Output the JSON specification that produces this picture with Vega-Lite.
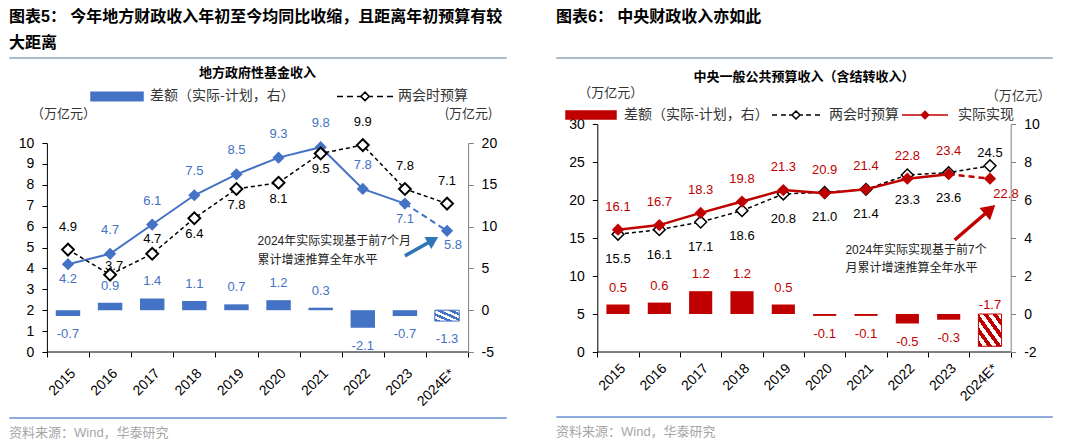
{
  "$schema": "https://vega.github.io/schema/vega-lite/v6.json",
  "background": "white",
  "padding": {"left": 8, "top": 8, "right": 0, "bottom": 0},
  "datasets": {
    "local": [
      {"year": "2015", "series": "实际实现", "value": 4.2},
      {"year": "2016", "series": "实际实现", "value": 4.7},
      {"year": "2017", "series": "实际实现", "value": 6.1},
      {"year": "2018", "series": "实际实现", "value": 7.5},
      {"year": "2019", "series": "实际实现", "value": 8.5},
      {"year": "2020", "series": "实际实现", "value": 9.3},
      {"year": "2021", "series": "实际实现", "value": 9.8},
      {"year": "2022", "series": "实际实现", "value": 7.8},
      {"year": "2023", "series": "实际实现", "value": 7.1},
      {"year": "2024E*", "series": "实际实现", "value": 5.8},
      {"year": "2015", "series": "两会时预算", "value": 4.9},
      {"year": "2016", "series": "两会时预算", "value": 3.7},
      {"year": "2017", "series": "两会时预算", "value": 4.7},
      {"year": "2018", "series": "两会时预算", "value": 6.4},
      {"year": "2019", "series": "两会时预算", "value": 7.8},
      {"year": "2020", "series": "两会时预算", "value": 8.1},
      {"year": "2021", "series": "两会时预算", "value": 9.5},
      {"year": "2022", "series": "两会时预算", "value": 9.9},
      {"year": "2023", "series": "两会时预算", "value": 7.8},
      {"year": "2024E*", "series": "两会时预算", "value": 7.1},
      {"year": "2015", "series": "差额（实际-计划，右）", "value": -0.7},
      {"year": "2016", "series": "差额（实际-计划，右）", "value": 0.9},
      {"year": "2017", "series": "差额（实际-计划，右）", "value": 1.4},
      {"year": "2018", "series": "差额（实际-计划，右）", "value": 1.1},
      {"year": "2019", "series": "差额（实际-计划，右）", "value": 0.7},
      {"year": "2020", "series": "差额（实际-计划，右）", "value": 1.2},
      {"year": "2021", "series": "差额（实际-计划，右）", "value": 0.3},
      {"year": "2022", "series": "差额（实际-计划，右）", "value": -2.1},
      {"year": "2023", "series": "差额（实际-计划，右）", "value": -0.7},
      {"year": "2024E*", "series": "差额（实际-计划，右）", "value": -1.3}
    ],
    "central": [
      {"year": "2015", "series": "实际实现", "value": 16.1},
      {"year": "2016", "series": "实际实现", "value": 16.7},
      {"year": "2017", "series": "实际实现", "value": 18.3},
      {"year": "2018", "series": "实际实现", "value": 19.8},
      {"year": "2019", "series": "实际实现", "value": 21.3},
      {"year": "2020", "series": "实际实现", "value": 20.9},
      {"year": "2021", "series": "实际实现", "value": 21.4},
      {"year": "2022", "series": "实际实现", "value": 22.8},
      {"year": "2023", "series": "实际实现", "value": 23.4},
      {"year": "2024E*", "series": "实际实现", "value": 22.8},
      {"year": "2015", "series": "两会时预算", "value": 15.5},
      {"year": "2016", "series": "两会时预算", "value": 16.1},
      {"year": "2017", "series": "两会时预算", "value": 17.1},
      {"year": "2018", "series": "两会时预算", "value": 18.6},
      {"year": "2019", "series": "两会时预算", "value": 20.8},
      {"year": "2020", "series": "两会时预算", "value": 21.0},
      {"year": "2021", "series": "两会时预算", "value": 21.4},
      {"year": "2022", "series": "两会时预算", "value": 23.3},
      {"year": "2023", "series": "两会时预算", "value": 23.6},
      {"year": "2024E*", "series": "两会时预算", "value": 24.5},
      {"year": "2015", "series": "差额（实际-计划，右）", "value": 0.5},
      {"year": "2016", "series": "差额（实际-计划，右）", "value": 0.6},
      {"year": "2017", "series": "差额（实际-计划，右）", "value": 1.2},
      {"year": "2018", "series": "差额（实际-计划，右）", "value": 1.2},
      {"year": "2019", "series": "差额（实际-计划，右）", "value": 0.5},
      {"year": "2020", "series": "差额（实际-计划，右）", "value": -0.1},
      {"year": "2021", "series": "差额（实际-计划，右）", "value": -0.1},
      {"year": "2022", "series": "差额（实际-计划，右）", "value": -0.5},
      {"year": "2023", "series": "差额（实际-计划，右）", "value": -0.3},
      {"year": "2024E*", "series": "差额（实际-计划，右）", "value": -1.7}
    ]
  },
  "resolve": {"scale": {"fill": "independent", "stroke": "independent", "shape": "independent"}},
  "spacing": 47,
  "hconcat": [
    {
      "concat": [
        {
          "width": 497, "height": 1,
          "data": {"name": "local"},
          "transform": [{"filter": {"and": [{"field": "series", "equal": "实际实现"}, {"field": "year", "equal": "2015"}]}}],
          "title": {"text": ["图表5：  今年地方财政收入年初至今均同比收缩，且距离年初预算有较", "大距离"], "anchor": "start", "fontSize": 16, "fontWeight": "bold", "lineHeight": 26, "offset": 1, "font": "'Liberation Sans', 'Noto Sans CJK SC'", "color": "#000"},
          "view": {"stroke": "#a9bccc", "strokeWidth": 1},
          "mark": {"type": "text"},
          "encoding": {"text": {"value": ""}}
        },
        {
          "width": 497, "height": 209,
          "data": {"name": "local"},
          "title": {"text": "地方政府性基金收入", "fontSize": 13, "fontWeight": "bold", "offset": 9, "anchor": "middle"},
          "encoding": {
            "x": {"field": "year", "type": "nominal", "sort": null, "title": null,
              "scale": {"type": "band", "paddingInner": 0, "paddingOuter": 0.9, "domain": ["2015", "2016", "2017", "2018", "2019", "2020", "2021", "2022", "2023", "2024E*"]},
              "axis": {"labelAngle": -45, "tickBand": "extent", "domain": false, "tickColor": "#000", "tickSize": 5, "labelPadding": 9, "labelFontSize": 14}}
          },
          "layer": [
            {
              "encoding": {"y": {"field": "value", "type": "quantitative", "scale": {"domain": [-5, 20], "nice": false},
                "axis": {"orient": "right", "offset": -37.9, "values": [-5, 0, 5, 10, 15, 20], "labelExpr": "'' + datum.value", "title": "(万亿元)", "titleAngle": 0, "titleX": 0, "titleY": -30, "titleAlign": "center", "titleBaseline": "middle", "domainColor": "#7f7f7f", "tickColor": "#7f7f7f", "tickSize": 5, "labelPadding": 8}}},
              "layer": [
                {"transform": [{"filter": {"and": [{"field": "series", "equal": "差额（实际-计划，右）"}, {"not": {"field": "year", "equal": "2024E*"}}]}}],
                 "mark": {"type": "bar", "width": {"band": 0.58}, "fill": "#4472c4"}},
                {"transform": [{"filter": {"and": [{"field": "series", "equal": "差额（实际-计划，右）"}, {"field": "year", "equal": "2024E*"}]}}],
                 "mark": {"type": "bar", "width": {"band": 0.58}, "stroke": "#4472c4", "strokeWidth": 1,
                   "fill": {"gradient": "linear", "x1": 0, "y1": 1, "x2": 1, "y2": 0, "stops": [
                     {"offset": 0, "color": "#4472c4"}, {"offset": 0.125, "color": "#4472c4"},
                     {"offset": 0.125, "color": "#ffffff"}, {"offset": 0.25, "color": "#ffffff"},
                     {"offset": 0.25, "color": "#4472c4"}, {"offset": 0.375, "color": "#4472c4"},
                     {"offset": 0.375, "color": "#ffffff"}, {"offset": 0.5, "color": "#ffffff"},
                     {"offset": 0.5, "color": "#4472c4"}, {"offset": 0.625, "color": "#4472c4"},
                     {"offset": 0.625, "color": "#ffffff"}, {"offset": 0.75, "color": "#ffffff"},
                     {"offset": 0.75, "color": "#4472c4"}, {"offset": 0.875, "color": "#4472c4"},
                     {"offset": 0.875, "color": "#ffffff"}, {"offset": 1, "color": "#ffffff"}]}}},
                {"transform": [{"filter": {"and": [{"field": "series", "equal": "差额（实际-计划，右）"}, {"field": "value", "gte": 0}]}}],
                 "mark": {"type": "text", "dy": -17, "color": "#4472c4"},
                 "encoding": {"text": {"field": "value", "type": "nominal"}}},
                {"transform": [{"filter": {"and": [{"field": "series", "equal": "差额（实际-计划，右）"}, {"field": "value", "lt": 0}]}}],
                 "mark": {"type": "text", "dy": 18, "color": "#4472c4"},
                 "encoding": {"text": {"field": "value", "type": "nominal"}}}
              ]
            },
            {
              "encoding": {"y": {"field": "value", "type": "quantitative", "scale": {"domain": [0, 10], "nice": false},
                "axis": {"orient": "left", "offset": -37.9, "values": [0, 1, 2, 3, 4, 5, 6, 7, 8, 9, 10], "title": "（万亿元）", "titleAngle": 0, "titleX": 16, "titleY": -30, "titleAlign": "center", "titleBaseline": "middle", "domainColor": "#000", "tickColor": "#000", "tickSize": 5, "labelPadding": 8}}},
              "layer": [
                {"transform": [{"filter": {"and": [{"field": "series", "equal": "实际实现"}, {"field": "year", "equal": "2015"}]}}],
                 "mark": {"type": "rule", "color": "#000", "strokeWidth": 1, "xOffset": -21.06, "x2Offset": 21.06},
                 "encoding": {"x": {"datum": "2015", "type": "nominal"}, "x2": {"datum": "2024E*"}, "y": {"datum": 0}}},
                {"transform": [{"filter": {"and": [{"field": "series", "equal": "实际实现"}, {"not": {"field": "year", "equal": "2024E*"}}]}}],
                 "mark": {"type": "line", "color": "#4472c4", "strokeWidth": 2}},
                {"transform": [{"filter": {"and": [{"field": "series", "equal": "实际实现"}, {"field": "year", "oneOf": ["2023", "2024E*"]}]}}],
                 "mark": {"type": "line", "color": "#4472c4", "strokeWidth": 2, "strokeDash": [6, 4]}},
                {"transform": [{"filter": {"field": "series", "equal": "两会时预算"}}],
                 "mark": {"type": "line", "color": "#000", "strokeWidth": 1.5, "strokeDash": [4, 3]}},
                {"transform": [{"filter": {"field": "series", "equal": "实际实现"}}],
                 "mark": {"type": "point", "shape": "diamond", "filled": true, "fill": "#4472c4", "size": 150, "opacity": 1}},
                {"transform": [{"filter": {"field": "series", "equal": "两会时预算"}}],
                 "mark": {"type": "point", "shape": "diamond", "filled": true, "fill": "#ffffff", "stroke": "#000", "strokeWidth": 2, "size": 140, "opacity": 1}},
                {"transform": [{"filter": {"and": [{"field": "series", "equal": "实际实现"}, {"field": "year", "oneOf": ["2016", "2017", "2018", "2019", "2020", "2021", "2022"]}]}}],
                 "mark": {"type": "text", "dy": -24, "color": "#4472c4"},
                 "encoding": {"text": {"field": "value", "type": "quantitative", "format": ".1f"}}},
                {"transform": [{"filter": {"and": [{"field": "series", "equal": "实际实现"}, {"field": "year", "oneOf": ["2015", "2023"]}]}}],
                 "mark": {"type": "text", "dy": 15, "color": "#4472c4"},
                 "encoding": {"text": {"field": "value", "type": "quantitative", "format": ".1f"}}},
                {"transform": [{"filter": {"and": [{"field": "series", "equal": "实际实现"}, {"field": "year", "equal": "2024E*"}]}}],
                 "mark": {"type": "text", "dy": 14, "dx": 6, "color": "#4472c4"},
                 "encoding": {"text": {"field": "value", "type": "quantitative", "format": ".1f"}}},
                {"transform": [{"filter": {"and": [{"field": "series", "equal": "两会时预算"}, {"field": "year", "oneOf": ["2015", "2022", "2023", "2024E*"]}]}}],
                 "mark": {"type": "text", "dy": -23, "color": "#000"},
                 "encoding": {"text": {"field": "value", "type": "quantitative", "format": ".1f"}}},
                {"transform": [{"filter": {"and": [{"field": "series", "equal": "两会时预算"}, {"field": "year", "equal": "2016"}]}}],
                 "mark": {"type": "text", "dy": -9, "dx": 4, "color": "#000"},
                 "encoding": {"text": {"field": "value", "type": "quantitative", "format": ".1f"}}},
                {"transform": [{"filter": {"and": [{"field": "series", "equal": "两会时预算"}, {"field": "year", "equal": "2017"}]}}],
                 "mark": {"type": "text", "dy": -15, "color": "#000"},
                 "encoding": {"text": {"field": "value", "type": "quantitative", "format": ".1f"}}},
                {"transform": [{"filter": {"and": [{"field": "series", "equal": "两会时预算"}, {"field": "year", "oneOf": ["2018", "2019", "2020", "2021"]}]}}],
                 "mark": {"type": "text", "dy": 16, "color": "#000"},
                 "encoding": {"text": {"field": "value", "type": "quantitative", "format": ".1f"}}},
                {"transform": [{"filter": {"and": [{"field": "series", "equal": "实际实现"}, {"field": "year", "equal": "2024E*"}]}}],
                 "mark": {"type": "text", "align": "left", "baseline": "top", "dx": -21, "font": "'Liberation Sans', 'Noto Sans CJK SC'", "fontSize": 12, "lineHeight": 19, "color": "#222"},
                 "encoding": {"x": {"datum": "2020", "type": "nominal"}, "y": {"datum": 5.55}, "text": {"value": ["2024年实际实现基于前7个月", "累计增速推算全年水平"]}}},
                {"transform": [{"filter": {"and": [{"field": "series", "equal": "实际实现"}, {"field": "year", "equal": "2024E*"}]}}],
                 "mark": {"type": "rule", "color": "#2e75b6", "strokeWidth": 3.5, "x2Offset": -14},
                 "encoding": {"x": {"datum": "2023", "type": "nominal"}, "x2": {"datum": "2024E*"}, "y": {"datum": 4.6}, "y2": {"datum": 5.36}}},
                {"transform": [{"filter": {"and": [{"field": "series", "equal": "实际实现"}, {"field": "year", "equal": "2024E*"}]}}],
                 "mark": {"type": "point", "shape": "triangle-up", "filled": true, "fill": "#2e75b6", "size": 190, "angle": 60, "xOffset": -14, "opacity": 1},
                 "encoding": {"x": {"datum": "2024E*", "type": "nominal"}, "y": {"datum": 5.36}}},
                {"transform": [{"filter": {"field": "series", "oneOf": ["差额（实际-计划，右）", "两会时预算"]}}],
                 "mark": {"type": "point", "opacity": 0, "filled": true},
                 "encoding": {
                   "y": {"datum": 5},
                   "shape": {"field": "series", "type": "nominal",
                     "scale": {"domain": ["差额（实际-计划，右）", "两会时预算"], "range": ["M-5.2,-0.85H5.2V0.85H-5.2Z", "M-5.6,0H-4.4M-3.6,0H-2.4M-1.6,0H-0.9M0.9,0H1.6M2.4,0H3.6M4.4,0H5.6M0,-0.85L0.85,0L0,0.85L-0.85,0Z"]},
                     "legend": {"orient": "none", "legendX": 101, "legendY": -54, "direction": "horizontal", "title": null, "labelOffset": 26, "columnPadding": 39, "symbolSize": 100, "symbolStrokeWidth": 1.5, "symbolOpacity": 1}},
                   "fill": {"field": "series", "type": "nominal", "scale": {"domain": ["差额（实际-计划，右）", "两会时预算"], "range": ["#4472c4", "#ffffff"]}},
                   "stroke": {"field": "series", "type": "nominal", "scale": {"domain": ["差额（实际-计划，右）", "两会时预算"], "range": ["#4472c4", "#000000"]}}
                 }}
              ]
            }
          ],
          "resolve": {"scale": {"y": "independent"}}
        },
        {
          "width": 497, "height": 1,
          "data": {"name": "local"},
          "transform": [{"filter": {"and": [{"field": "series", "equal": "实际实现"}, {"field": "year", "equal": "2015"}]}}],
          "title": {"text": "资料来源：Wind，华泰研究", "orient": "bottom", "anchor": "start", "fontSize": 13, "fontWeight": "normal", "offset": 2, "font": "'Liberation Sans', 'Noto Sans CJK SC'", "color": "#a6a6a6"},
          "view": {"stroke": "#8faadc", "strokeWidth": 1},
          "mark": {"type": "text"},
          "encoding": {"text": {"value": ""}}
        }
      ],
      "columns": 1,
      "spacing": 2,
      "resolve": {"scale": {"fill": "independent", "stroke": "independent", "shape": "independent"}}
    },
    {
      "concat": [
        {
          "width": 496, "height": 1,
          "data": {"name": "central"},
          "transform": [{"filter": {"and": [{"field": "series", "equal": "实际实现"}, {"field": "year", "equal": "2015"}]}}],
          "title": {"text": ["图表6：    中央财政收入亦如此", " "], "anchor": "start", "fontSize": 16, "fontWeight": "bold", "lineHeight": 26, "offset": 1, "font": "'Liberation Sans', 'Noto Sans CJK SC'", "color": "#000"},
          "view": {"stroke": "#a9bccc", "strokeWidth": 1},
          "mark": {"type": "text"},
          "encoding": {"text": {"value": ""}}
        },
        {
          "width": 496, "height": 228,
          "data": {"name": "central"},
          "title": {"text": "中央一般公共预算收入（含结转收入）", "fontSize": 13, "fontWeight": "bold", "offset": 2, "anchor": "middle"},
          "encoding": {
            "x": {"field": "year", "type": "nominal", "sort": null, "title": null,
              "scale": {"type": "band", "paddingInner": 0, "paddingOuter": 1.0, "domain": ["2015", "2016", "2017", "2018", "2019", "2020", "2021", "2022", "2023", "2024E*"]},
              "axis": {"labelAngle": -45, "tickBand": "extent", "domain": false, "tickColor": "#000", "tickSize": 5, "labelPadding": 4, "labelFontSize": 14}}
          },
          "layer": [
            {
              "encoding": {"y": {"field": "value", "type": "quantitative", "scale": {"domain": [-2, 10], "nice": false},
                "axis": {"orient": "right", "offset": -41.3, "values": [-2, 0, 2, 4, 6, 8, 10], "labelExpr": "'' + datum.value", "title": "（万亿元）", "titleAngle": 0, "titleX": 7, "titleY": -29, "titleAlign": "center", "titleBaseline": "middle", "domainColor": "#7f7f7f", "tickColor": "#7f7f7f", "tickSize": 5, "labelPadding": 8}}},
              "layer": [
                {"transform": [{"filter": {"and": [{"field": "series", "equal": "差额（实际-计划，右）"}, {"not": {"field": "year", "equal": "2024E*"}}]}}],
                 "mark": {"type": "bar", "width": {"band": 0.56}, "fill": "#c00000"}},
                {"transform": [{"filter": {"and": [{"field": "series", "equal": "差额（实际-计划，右）"}, {"field": "year", "equal": "2024E*"}]}}],
                 "mark": {"type": "bar", "width": {"band": 0.56}, "stroke": "#c00000", "strokeWidth": 1,
                   "fill": {"gradient": "linear", "x1": 0, "y1": 1, "x2": 1, "y2": 0, "stops": [
                     {"offset": 0, "color": "#c00000"}, {"offset": 0.1, "color": "#c00000"},
                     {"offset": 0.1, "color": "#ffffff"}, {"offset": 0.2, "color": "#ffffff"},
                     {"offset": 0.2, "color": "#c00000"}, {"offset": 0.3, "color": "#c00000"},
                     {"offset": 0.3, "color": "#ffffff"}, {"offset": 0.4, "color": "#ffffff"},
                     {"offset": 0.4, "color": "#c00000"}, {"offset": 0.5, "color": "#c00000"},
                     {"offset": 0.5, "color": "#ffffff"}, {"offset": 0.6, "color": "#ffffff"},
                     {"offset": 0.6, "color": "#c00000"}, {"offset": 0.7, "color": "#c00000"},
                     {"offset": 0.7, "color": "#ffffff"}, {"offset": 0.8, "color": "#ffffff"},
                     {"offset": 0.8, "color": "#c00000"}, {"offset": 0.9, "color": "#c00000"},
                     {"offset": 0.9, "color": "#ffffff"}, {"offset": 1, "color": "#ffffff"}]}}},
                {"transform": [{"filter": {"and": [{"field": "series", "equal": "差额（实际-计划，右）"}, {"field": "value", "gte": 0}]}}],
                 "mark": {"type": "text", "dy": -17, "color": "#c00000"},
                 "encoding": {"text": {"field": "value", "type": "nominal"}}},
                {"transform": [{"filter": {"and": [{"field": "series", "equal": "差额（实际-计划，右）"}, {"field": "value", "lt": 0}, {"not": {"field": "year", "equal": "2024E*"}}]}}],
                 "mark": {"type": "text", "dy": 18, "color": "#c00000"},
                 "encoding": {"text": {"field": "value", "type": "nominal"}}},
                {"transform": [{"filter": {"and": [{"field": "series", "equal": "差额（实际-计划，右）"}, {"field": "year", "equal": "2024E*"}]}}],
                 "mark": {"type": "text", "dy": -9, "color": "#c00000"},
                 "encoding": {"y": {"datum": 0}, "text": {"field": "value", "type": "nominal"}}}
              ]
            },
            {
              "encoding": {"y": {"field": "value", "type": "quantitative", "scale": {"domain": [0, 30], "nice": false},
                "axis": {"orient": "left", "offset": -41.3, "values": [0, 5, 10, 15, 20, 25, 30], "title": "（万亿元）", "titleAngle": 0, "titleX": 13, "titleY": -32, "titleAlign": "center", "titleBaseline": "middle", "domainColor": "#000", "tickColor": "#000", "tickSize": 5, "labelPadding": 8}}},
              "layer": [
                {"transform": [{"filter": {"and": [{"field": "series", "equal": "实际实现"}, {"field": "year", "equal": "2015"}]}}],
                 "mark": {"type": "rule", "color": "#000", "strokeWidth": 1, "xOffset": -20.67, "x2Offset": 20.67},
                 "encoding": {"x": {"datum": "2015", "type": "nominal"}, "x2": {"datum": "2024E*"}, "y": {"datum": 0}}},
                {"transform": [{"filter": {"field": "series", "equal": "两会时预算"}}],
                 "mark": {"type": "line", "color": "#000", "strokeWidth": 1.5, "strokeDash": [4, 3]}},
                {"transform": [{"filter": {"field": "series", "equal": "两会时预算"}}],
                 "mark": {"type": "point", "shape": "diamond", "filled": true, "fill": "#ffffff", "stroke": "#000", "strokeWidth": 1.5, "size": 140, "opacity": 1}},
                {"transform": [{"filter": {"and": [{"field": "series", "equal": "实际实现"}, {"not": {"field": "year", "equal": "2024E*"}}]}}],
                 "mark": {"type": "line", "color": "#c00000", "strokeWidth": 2.5}},
                {"transform": [{"filter": {"and": [{"field": "series", "equal": "实际实现"}, {"field": "year", "oneOf": ["2023", "2024E*"]}]}}],
                 "mark": {"type": "line", "color": "#c00000", "strokeWidth": 2.5, "strokeDash": [6, 4]}},
                {"transform": [{"filter": {"field": "series", "equal": "实际实现"}}],
                 "mark": {"type": "point", "shape": "diamond", "filled": true, "fill": "#c00000", "size": 150, "opacity": 1}},
                {"transform": [{"filter": {"and": [{"field": "series", "equal": "实际实现"}, {"not": {"field": "year", "equal": "2024E*"}}]}}],
                 "mark": {"type": "text", "dy": -23, "color": "#c00000"},
                 "encoding": {"text": {"field": "value", "type": "quantitative", "format": ".1f"}}},
                {"transform": [{"filter": {"and": [{"field": "series", "equal": "实际实现"}, {"field": "year", "equal": "2024E*"}]}}],
                 "mark": {"type": "text", "dy": 15, "dx": 16, "color": "#c00000"},
                 "encoding": {"text": {"field": "value", "type": "quantitative", "format": ".1f"}}},
                {"transform": [{"filter": {"and": [{"field": "series", "equal": "两会时预算"}, {"not": {"field": "year", "equal": "2024E*"}}]}}],
                 "mark": {"type": "text", "dy": 25, "color": "#000"},
                 "encoding": {"text": {"field": "value", "type": "quantitative", "format": ".1f"}}},
                {"transform": [{"filter": {"and": [{"field": "series", "equal": "两会时预算"}, {"field": "year", "equal": "2024E*"}]}}],
                 "mark": {"type": "text", "dy": -13, "color": "#000"},
                 "encoding": {"text": {"field": "value", "type": "quantitative", "format": ".1f"}}},
                {"transform": [{"filter": {"and": [{"field": "series", "equal": "实际实现"}, {"field": "year", "equal": "2024E*"}]}}],
                 "mark": {"type": "text", "align": "left", "baseline": "top", "dx": -20.6, "font": "'Liberation Sans', 'Noto Sans CJK SC'", "fontSize": 12, "lineHeight": 18, "color": "#222"},
                 "encoding": {"x": {"datum": "2021", "type": "nominal"}, "y": {"datum": 14.1}, "text": {"value": ["2024年实际实现基于前7个", "月累计增速推算全年水平"]}}},
                {"transform": [{"filter": {"and": [{"field": "series", "equal": "实际实现"}, {"field": "year", "equal": "2024E*"}]}}],
                 "mark": {"type": "rule", "color": "#c00000", "strokeWidth": 3.5, "xOffset": 6},
                 "encoding": {"x": {"datum": "2023", "type": "nominal"}, "x2": {"datum": "2024E*"}, "y": {"datum": 14.74}, "y2": {"datum": 18.75}}},
                {"transform": [{"filter": {"and": [{"field": "series", "equal": "实际实现"}, {"field": "year", "equal": "2024E*"}]}}],
                 "mark": {"type": "point", "shape": "triangle-up", "filled": true, "fill": "#c00000", "size": 260, "angle": 49, "opacity": 1},
                 "encoding": {"x": {"datum": "2024E*", "type": "nominal"}, "y": {"datum": 18.75}}},
                {"mark": {"type": "point", "opacity": 0, "filled": true},
                 "encoding": {
                   "y": {"datum": 15},
                   "shape": {"field": "series", "type": "nominal",
                     "scale": {"domain": ["差额（实际-计划，右）", "两会时预算", "实际实现"], "range": ["M-5,-0.8H5V0.8H-5Z", "M-4.8,0H-3.8M-3,0H-2M-1.4,0H-0.9M0.9,0H1.4M2,0H3M3.8,0H4.8M0,-0.8L0.8,0L0,0.8L-0.8,0Z", "M-4.6,0H4.6M0,-0.75L0.75,0L0,0.75L-0.75,0Z"]},
                     "legend": {"orient": "none", "legendX": 28, "legendY": -16, "direction": "horizontal", "title": null, "labelOffset": 26, "columnPadding": 0, "symbolSize": 100, "symbolStrokeWidth": 1.5, "symbolOpacity": 1}},
                   "fill": {"field": "series", "type": "nominal", "scale": {"domain": ["差额（实际-计划，右）", "两会时预算", "实际实现"], "range": ["#c00000", "#ffffff", "#c00000"]}},
                   "stroke": {"field": "series", "type": "nominal", "scale": {"domain": ["差额（实际-计划，右）", "两会时预算", "实际实现"], "range": ["#c00000", "#000000", "#c00000"]}}
                 }}
              ]
            }
          ],
          "resolve": {"scale": {"y": "independent"}}
        },
        {
          "width": 496, "height": 1,
          "data": {"name": "central"},
          "transform": [{"filter": {"and": [{"field": "series", "equal": "实际实现"}, {"field": "year", "equal": "2015"}]}}],
          "title": {"text": "资料来源：Wind，华泰研究", "orient": "bottom", "anchor": "start", "fontSize": 13, "fontWeight": "normal", "offset": 2, "font": "'Liberation Sans', 'Noto Sans CJK SC'", "color": "#a6a6a6"},
          "view": {"stroke": "#8faadc", "strokeWidth": 1},
          "mark": {"type": "text"},
          "encoding": {"text": {"value": ""}}
        }
      ],
      "columns": 1,
      "spacing": 6,
      "resolve": {"scale": {"fill": "independent", "stroke": "independent", "shape": "independent"}}
    }
  ],
  "config": {
    "font": "'Liberation Sans', 'Noto Sans CJK SC'",
    "view": {"stroke": null},
    "axis": {"grid": false, "labelFont": "Liberation Sans", "labelFontSize": 14, "labelColor": "#000", "titleFont": "Noto Sans CJK SC", "titleFontWeight": "normal", "titleFontSize": 13, "titleColor": "#333"},
    "legend": {"padding": 0, "labelFont": "Noto Sans CJK SC", "labelFontSize": 14, "labelColor": "#333"},
    "title": {"font": "Noto Sans CJK SC", "color": "#000"},
    "text": {"font": "Liberation Sans", "fontSize": 13}
  }
}
